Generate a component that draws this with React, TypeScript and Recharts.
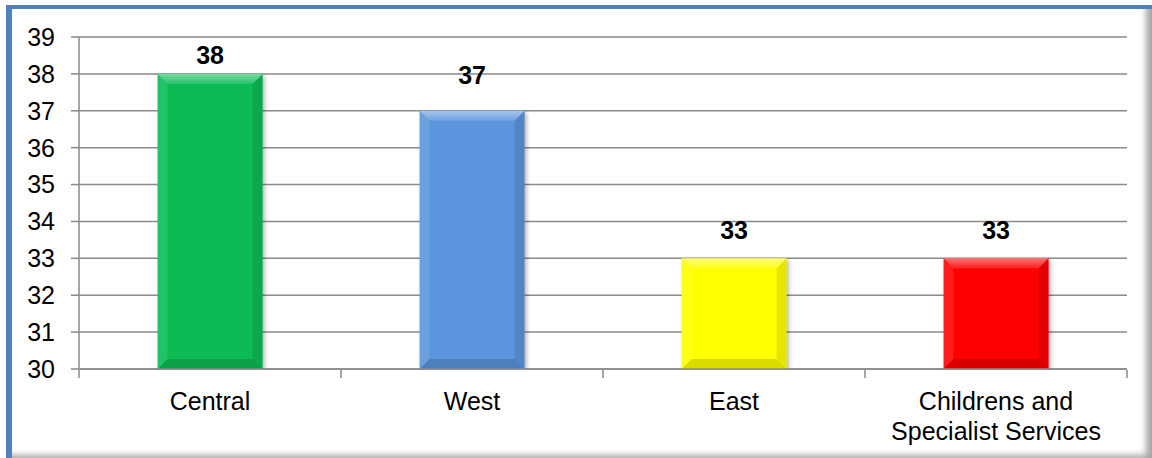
import {
  BarChart,
  Bar,
  XAxis,
  YAxis,
  CartesianGrid,
  Cell,
  LabelList,
} from "recharts";

const categories = ["Central", "West", "East", "Childrens and Specialist Services"];
const values = [38, 37, 33, 33];
const barColors = ["#0BBB55", "#5B95DD", "#FFFF00", "#FF0000"];
const yTicks = [30, 31, 32, 33, 34, 35, 36, 37, 38, 39];
// boundaries between the category bands, used for the bottom tick marks
const bandEdges = [0, 1, 2, 3, 4];
// gap in px between each bar top and its value label
const labelGaps = [10, 27, 19, 19];

const FONT = "'Liberation Sans', Arial, sans-serif";
const FONT_SIZE = 25;
const GRID = "#8a8a8a";

const chartData = categories.map((name, i) => ({
  name,
  value: values[i],
  color: barColors[i],
}));

// greedy word wrap by character count
function wrapWords(label: string, maxChars: number) {
  const lines: string[] = [];
  let line = "";
  for (const word of label.split(" ")) {
    const next = line ? `${line} ${word}` : word;
    if (next.length > maxChars && line) {
      lines.push(line);
      line = word;
    } else {
      line = next;
    }
  }
  if (line) lines.push(line);
  return lines;
}

// Bar with a soft bevel on each edge
function BevelBar(props: any) {
  const { x, y, width: w, height: h, fill } = props;
  if (!w || !h) return null;
  const b = Math.min(10, w / 2, h / 2);
  return (
    <g filter="url(#barShadow)">
      <rect x={x} y={y} width={w} height={h} fill={fill} />
      <polygon
        points={`${x},${y} ${x + w},${y} ${x + w - b},${y + b} ${x + b},${y + b}`}
        fill="url(#bevelTop)"
      />
      <polygon
        points={`${x},${y} ${x + b},${y + b} ${x + b},${y + h - b} ${x},${y + h}`}
        fill="#ffffff"
        fillOpacity={0.1}
      />
      <polygon
        points={`${x + w},${y} ${x + w},${y + h} ${x + w - b},${y + h - b} ${x + w - b},${y + b}`}
        fill="#000000"
        fillOpacity={0.1}
      />
      <polygon
        points={`${x},${y + h} ${x + b},${y + h - b} ${x + w - b},${y + h - b} ${x + w},${y + h}`}
        fill="#000000"
        fillOpacity={0.14}
      />
    </g>
  );
}

function ValueLabel({ x, y, width, value, index }: any) {
  return (
    <text
      x={x + width / 2}
      y={y - labelGaps[index]}
      textAnchor="middle"
      fill="#000"
      fontSize={FONT_SIZE}
      fontWeight="bold"
      fontFamily={FONT}
    >
      {value}
    </text>
  );
}

function CategoryTick({ x, y, payload }: any) {
  const lines = wrapWords(String(payload.value), 20);
  return (
    <text
      x={x}
      y={y}
      textAnchor="middle"
      fill="#000"
      fontSize={FONT_SIZE}
      fontFamily={FONT}
    >
      {lines.map((line, i) => (
        <tspan key={i} x={x} dy={i === 0 ? "0.71em" : 30}>
          {line}
        </tspan>
      ))}
    </text>
  );
}

export default function App() {
  return (
    <div
      style={{
        position: "absolute",
        left: 0,
        top: 0,
        width: 1152,
        height: 458,
        background: "#fff",
        overflow: "hidden",
      }}
    >
      <div
        style={{
          position: "absolute",
          left: 6,
          top: 5,
          width: 1146,
          height: 453,
          boxSizing: "border-box",
          borderTop: "4px solid #4F81BD",
          borderLeft: "6px solid #4F81BD",
          background: "#fff",
          boxShadow: "inset -9px -6px 6px -3px rgba(0,0,0,0.35)",
        }}
      />
      <div style={{ position: "absolute", left: 0, top: 0 }}>
        <BarChart
          width={1152}
          height={458}
          data={chartData}
          margin={{ top: 37, right: 25, bottom: 87, left: 10 }}
          barCategoryGap="30%"
        >
          <defs>
            <filter id="barShadow" x="-10%" y="-10%" width="130%" height="130%">
              <feDropShadow dx="2" dy="2" stdDeviation="2" floodColor="#000" floodOpacity="0.3" />
            </filter>
            <linearGradient id="bevelTop" x1="0" y1="0" x2="0" y2="1">
              <stop offset="0%" stopColor="#ffffff" stopOpacity={0.45} />
              <stop offset="100%" stopColor="#ffffff" stopOpacity={0.12} />
            </linearGradient>
          </defs>
          <CartesianGrid vertical={false} stroke={GRID} strokeWidth={1.5} />
          <XAxis
            xAxisId="edges"
            type="number"
            dataKey={() => 0}
            domain={[0, categories.length]}
            ticks={bandEdges}
            allowDataOverflow
            interval={0}
            height={1}
            tickFormatter={() => ""}
            tickSize={8}
            tickLine={{ stroke: GRID, strokeWidth: 1.5 }}
            axisLine={false}
          />
          <XAxis
            dataKey="name"
            height={1}
            interval={0}
            tickLine={false}
            tickMargin={17}
            tick={<CategoryTick />}
            axisLine={{ stroke: GRID, strokeWidth: 1.5 }}
          />
          <YAxis
            domain={[30, 39]}
            ticks={yTicks}
            allowDataOverflow
            width={69}
            interval={0}
            tickSize={8}
            tickMargin={16}
            tickLine={{ stroke: GRID, strokeWidth: 1.5 }}
            axisLine={{ stroke: GRID, strokeWidth: 1.5 }}
            tick={{ fill: "#000", fontSize: FONT_SIZE, fontFamily: FONT }}
          />
          <Bar dataKey="value" shape={<BevelBar />} isAnimationActive={false}>
            {chartData.map((d) => (
              <Cell key={d.name} fill={d.color} />
            ))}
            <LabelList dataKey="value" content={<ValueLabel />} />
          </Bar>
        </BarChart>
      </div>
    </div>
  );
}
